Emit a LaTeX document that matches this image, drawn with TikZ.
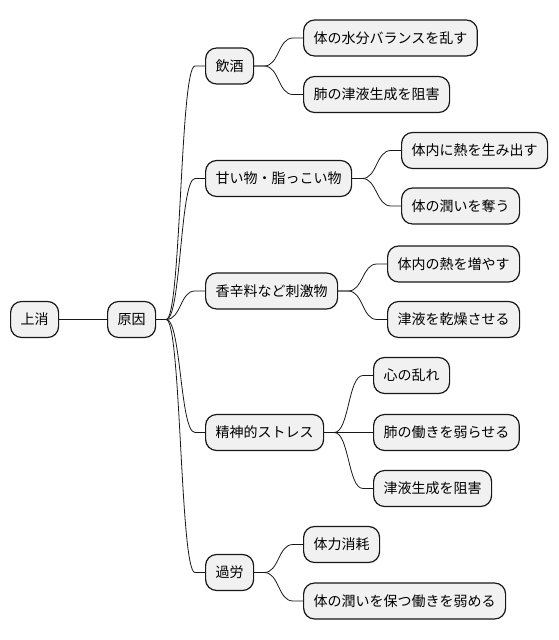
\documentclass[tikz,border=0pt]{standalone}
\usepackage{fontspec}
\setmainfont{Noto Sans CJK JP}
\usetikzlibrary{calc}
\definecolor{mmfill}{HTML}{F1F1F1}
\definecolor{mmline}{HTML}{181818}
\tikzset{
  mmnode/.style={draw=mmline, fill=mmfill, line width=1.2pt, rounded corners=11pt,
    minimum height=36pt, inner xsep=10pt, inner ysep=0pt, anchor=west,
    font=\fontsize{14pt}{16pt}\selectfont, text=black},
  link/.style={draw=mmline, line width=0.8pt}
}
\newcommand{\mmlink}[2]{\draw[link] (#1.east) -- ++(10,0) .. controls +(15,0) and +(-15,0) .. ($(#2.west)+(-10,0)$) -- (#2.west);}
\begin{document}
\begin{tikzpicture}[x=1pt,y=-1pt]
\useasboundingbox (0,0) rectangle (558,640);
\node[mmnode] (root) at (10,319.5) {上消};
\node[mmnode] (gen) at (107,319.5) {原因};
\node[mmnode] (a) at (205,66) {飲酒};
\node[mmnode] (b) at (205,178.5) {甘い物・脂っこい物};
\node[mmnode] (c) at (205,291) {香辛料など刺激物};
\node[mmnode] (d) at (205,432.5) {精神的ストレス};
\node[mmnode] (e) at (205,572.5) {過労};
\node[mmnode] (a1) at (303,38) {体の水分バランスを乱す};
\node[mmnode] (a2) at (303,94.5) {肺の津液生成を阻害};
\node[mmnode] (b1) at (401,150.5) {体内に熱を生み出す};
\node[mmnode] (b2) at (401,206) {体の潤いを奪う};
\node[mmnode] (c1) at (387,264) {体内の熱を増やす};
\node[mmnode] (c2) at (387,319.5) {津液を乾燥させる};
\node[mmnode] (d1) at (373,375.5) {心の乱れ};
\node[mmnode] (d2) at (373,432.5) {肺の働きを弱らせる};
\node[mmnode] (d3) at (373,488.5) {津液生成を阻害};
\node[mmnode] (e1) at (303,544.5) {体力消耗};
\node[mmnode] (e2) at (303,601) {体の潤いを保つ働きを弱める};
\draw[link] (root.east) -- (gen.west);
\mmlink{gen}{a}
\mmlink{gen}{b}
\mmlink{gen}{c}
\mmlink{gen}{d}
\mmlink{gen}{e}
\mmlink{a}{a1}
\mmlink{a}{a2}
\mmlink{b}{b1}
\mmlink{b}{b2}
\mmlink{c}{c1}
\mmlink{c}{c2}
\mmlink{d}{d1}
\draw[link] (d.east) -- (d2.west);
\mmlink{d}{d3}
\mmlink{e}{e1}
\mmlink{e}{e2}
\end{tikzpicture}
\end{document}
